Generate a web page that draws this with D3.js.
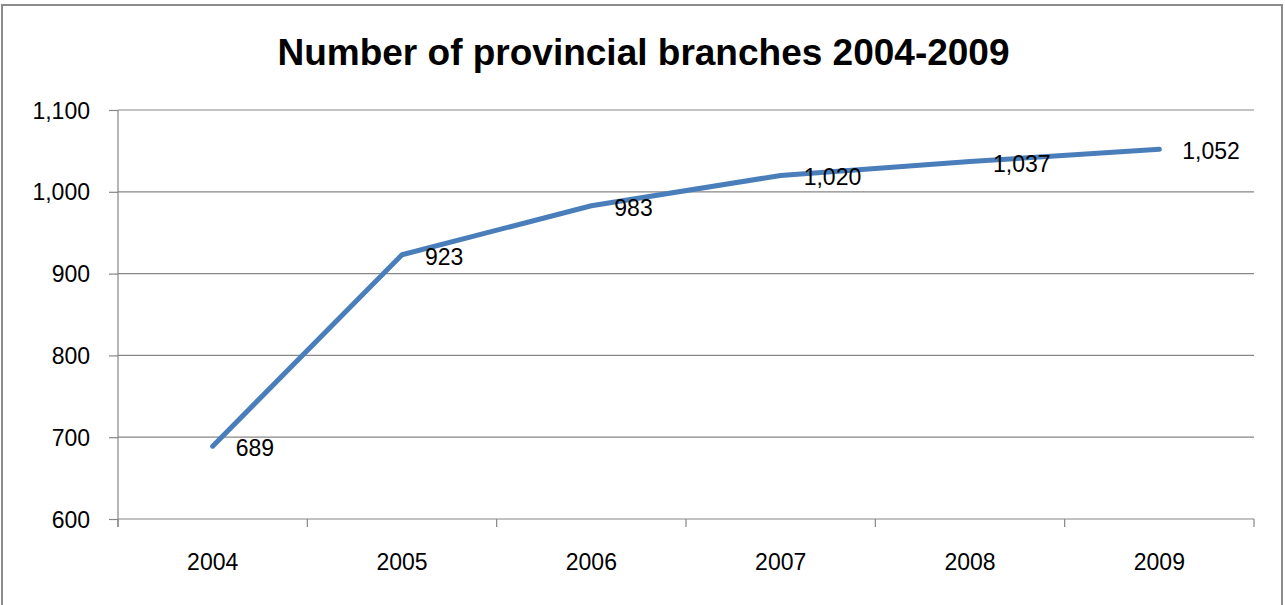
<!DOCTYPE html>
<html>
<head>
<meta charset="utf-8">
<script src="https://cdn.jsdelivr.net/npm/d3@7"></script>
<style>
  html, body { margin: 0; padding: 0; background: #fff; }
  svg { display: block; }
  text { font-family: "Liberation Sans", Arial, sans-serif; fill: #000; }
</style>
</head>
<body>
<svg id="chart" width="1285" height="605"></svg>
<script>
const title = "Number of provincial branches 2004-2009";
const years = ["2004", "2005", "2006", "2007", "2008", "2009"];
const branches = [689, 923, 983, 1020, 1037, 1052];
const yTicks = [600, 700, 800, 900, 1000, 1100];

const svg = d3.select("#chart");
const W = 1285, H = 605;
const plot = { left: 118, right: 1254, top: 110, bottom: 519 };

// outer frame
svg.append("rect")
  .attr("x", 2).attr("y", 5)
  .attr("width", 1280).attr("height", H + 10)
  .attr("fill", "#fff")
  .attr("stroke", "#8c8c8c").attr("stroke-width", 2);

// title
svg.append("text")
  .attr("x", 643.5).attr("y", 65)
  .attr("text-anchor", "middle")
  .style("font-size", "37px").style("font-weight", "bold")
  .text(title);

const x = d3.scaleBand().domain(years).range([plot.left, plot.right]).padding(0);
const y = d3.scaleLinear().domain([600, 1100]).range([plot.bottom, plot.top]);

// gridlines
svg.append("g").selectAll("line")
  .data(yTicks.filter(d => d !== 600))
  .join("line")
  .attr("x1", plot.left).attr("x2", plot.right)
  .attr("y1", d => y(d)).attr("y2", d => y(d))
  .attr("stroke", "#868686").attr("stroke-width", 1.2);

// y axis
const yAxis = svg.append("g")
  .attr("transform", `translate(${plot.left},0)`)
  .call(d3.axisLeft(y).tickValues(yTicks).tickSize(9).tickPadding(19).tickFormat(d3.format(",")));
yAxis.select(".domain").attr("stroke", "#868686").attr("stroke-width", 1.2)
  .attr("d", `M0,${plot.top}V${plot.bottom + 8}`);
yAxis.selectAll(".tick line").attr("stroke", "#868686").attr("stroke-width", 1.2);
yAxis.selectAll(".tick text")
  .style("font-size", "23px").style("font-family", "Liberation Sans, Arial, sans-serif")
  .attr("fill", "#000").attr("dy", "0.35em");

// x axis
const xAxis = svg.append("g")
  .attr("transform", `translate(0,${plot.bottom})`)
  .call(d3.axisBottom(x).tickSize(0).tickPadding(0));
xAxis.select(".domain").attr("stroke", "#868686").attr("stroke-width", 1.2)
  .attr("d", `M${plot.left},0H${plot.right}`);
xAxis.selectAll(".tick text")
  .style("font-size", "23px").style("font-family", "Liberation Sans, Arial, sans-serif")
  .attr("fill", "#000").attr("y", 51).attr("dy", 0);
// category boundary tick marks
const bounds = years.map(d => x(d)).concat([x(years[years.length - 1]) + x.bandwidth()]);
svg.append("g").selectAll("line")
  .data(bounds)
  .join("line")
  .attr("x1", d => d).attr("x2", d => d)
  .attr("y1", plot.bottom).attr("y2", plot.bottom + 8)
  .attr("stroke", "#868686").attr("stroke-width", 1.2);

// line
const cx = d => x(d) + x.bandwidth() / 2;
const line = d3.line().x((d, i) => cx(years[i])).y(d => y(d));
svg.append("path")
  .datum(branches)
  .attr("d", line)
  .attr("fill", "none")
  .attr("stroke", "#4a7ebb")
  .attr("stroke-width", 5)
  .attr("stroke-linecap", "round")
  .attr("stroke-linejoin", "round");

// data labels
svg.append("g").selectAll("text")
  .data(branches)
  .join("text")
  .attr("x", (d, i) => cx(years[i]) + 23)
  .attr("y", d => y(d) + 10)
  .style("font-size", "23px")
  .text(d => d3.format(",")(d));
</script>
</body>
</html>
